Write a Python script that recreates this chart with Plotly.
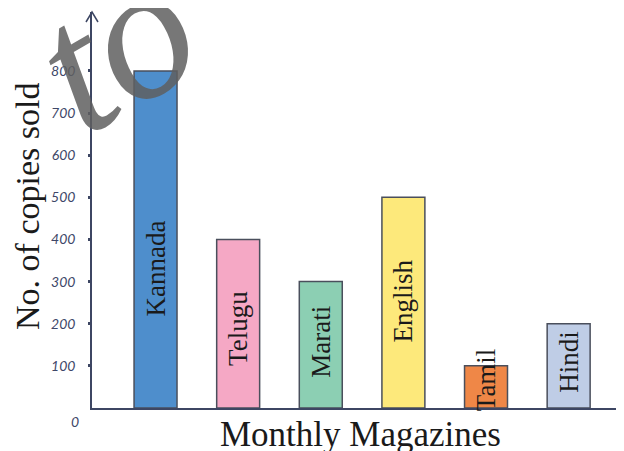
import plotly.graph_objects as go

magazines = ["Kannada", "Telugu", "Marati", "English", "Tamil", "Hindi"]
copies_sold = [800, 400, 300, 500, 100, 200]
bar_colors = ["#4e8ecc", "#f5a8c5", "#8ccfb3", "#fde97b", "#ef8747", "#bfcde6"]
y_ticks = [100, 200, 300, 400, 500, 600, 700, 800]
y_tick_labels = ["100", "200", "300", "400", "500", "600", "700", "800"]

# vertical placement of the in-bar labels (data units)
label_y = [330, 188, 157, 254, 66, 109]

axis_color = "#3d4663"
serif = "Liberation Serif, Times New Roman, serif"
tick_font = dict(family="Lato, sans-serif", size=14, color="#3e4768", style="italic")

fig = go.Figure()
fig.add_trace(go.Bar(
    x=magazines,
    y=copies_sold,
    marker=dict(color=bar_colors, line=dict(color="#4a4f5c", width=1.5)),
    width=0.52,
    hoverinfo="x+y",
))

annotations = []
for name, ly in zip(magazines, label_y):
    annotations.append(dict(
        x=name, y=ly, xref="x", yref="y", text=name, showarrow=False,
        textangle=-90, xanchor="center", yanchor="middle",
        font=dict(family=serif, size=27, color="#1a1a1a"),
    ))

annotations.append(dict(
    x=-0.12, y=0.508, xref="paper", yref="paper", text="No. of copies sold",
    showarrow=False, textangle=-90, xanchor="center", yanchor="middle",
    font=dict(family=serif, size=34, color="#1a1a1a"),
))
annotations.append(dict(
    x=0.504, y=-0.066, xref="paper", yref="paper", text="Monthly Magazines",
    showarrow=False, xanchor="center", yanchor="middle",
    font=dict(family=serif, size=35, color="#1a1a1a"),
))
# origin label, drawn below the axis corner as in the sketch
annotations.append(dict(
    x=-0.032, y=-0.035, xref="paper", yref="paper", text="0",
    showarrow=False, xanchor="center", yanchor="middle", font=tick_font,
))
# watermark
annotations.append(dict(
    x=0.043, y=0.915, xref="paper", yref="paper", text="<i>to</i>",
    showarrow=False, textangle=-30, xanchor="center", yanchor="middle",
    font=dict(family=serif, size=190, color="rgba(95,95,95,0.85)"),
))

fig.update_layout(
    width=616, height=443,
    margin=dict(l=84, r=0, t=4, b=43),
    paper_bgcolor="white", plot_bgcolor="white",
    showlegend=False,
    annotations=annotations,
    shapes=[dict(
        type="path", xref="paper", yref="paper",
        xsizemode="pixel", ysizemode="pixel", xanchor=0, yanchor=1,
        path="M -6,-10 L 0,0 L 6,-10",
        line=dict(color=axis_color, width=1.5),
    )],
)
fig.update_xaxes(
    range=[-0.769, 5.67], showticklabels=False, ticks="",
    showline=True, linecolor=axis_color, linewidth=1.5, showgrid=False, zeroline=False,
)
fig.update_yaxes(
    range=[0, 940], tickvals=y_ticks, ticktext=y_tick_labels,
    ticks="outside", ticklen=2, tickwidth=3, tickcolor=axis_color,
    showline=True, linecolor=axis_color, linewidth=1.5, showgrid=False, zeroline=False,
    tickfont=tick_font,
    ticklabelstandoff=10,
)

fig.write_html("out.html")
